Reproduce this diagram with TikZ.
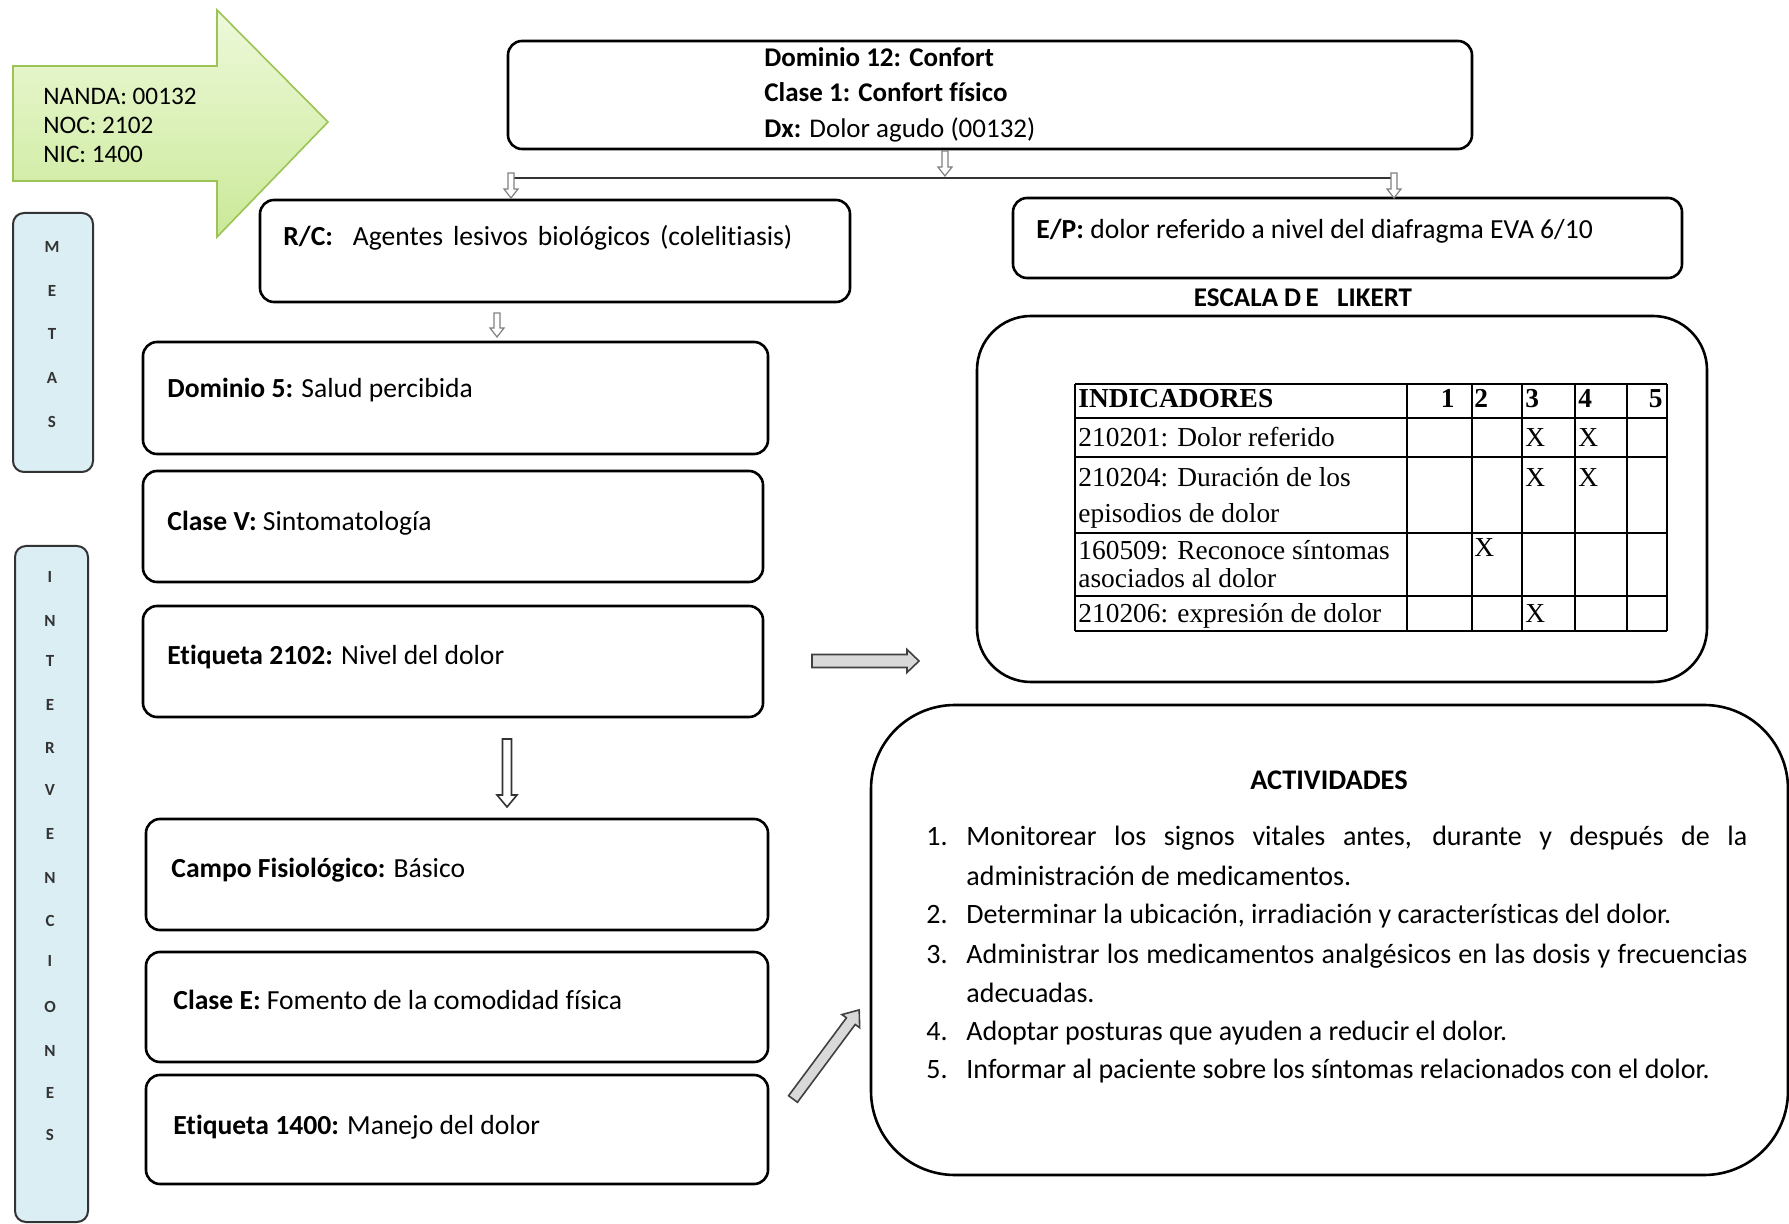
\documentclass[tikz,border=0pt]{standalone}
\usepackage{fontspec}
\setmainfont{Carlito}[Ligatures=NoCommon]
\newfontfamily\tnr{Liberation Serif}
\usetikzlibrary{fit}
\definecolor{gborder}{RGB}{155,195,85}
\definecolor{gtop}{RGB}{238,249,218}
\definecolor{gbot}{RGB}{202,233,152}
\definecolor{sideblue}{RGB}{218,238,243}
\newcommand{\blockarr}[5][]{\draw[#1] (0,-#3) -- ({#2-#5},-#3) -- ({#2-#5},-#4) -- (#2,0) -- ({#2-#5},#4) -- ({#2-#5},#3) -- (0,#3) -- cycle;}
\begin{document}
\begin{tikzpicture}[x=0.5pt,y=-0.5pt,
  box/.style={draw=black, line width=1.3pt, rounded corners=7pt, inner sep=0pt, fill=white},
  txt/.style={anchor=base west, inner sep=0pt, font=\fontsize{13.8}{16}\selectfont},
  ttxt/.style={anchor=base west, inner sep=0pt, font=\fontsize{13.5}{16}\selectfont},
  gtxt/.style={anchor=base west, inner sep=0pt, font=\fontsize{12.6}{15}\selectfont},
  atxt/.style={anchor=base west, inner sep=0pt, font=\fontsize{14}{16}\selectfont},
  side/.style={draw=black!80, line width=1pt, rounded corners=5.5pt, fill=sideblue, inner sep=0pt},
  sidel/.style={inner sep=0pt, font=\fontsize{8.5}{10}\selectfont\bfseries, text=black!80},
  tline/.style={line width=0.7pt},
  tcell/.style={anchor=base west, inner sep=0pt, font=\tnr\fontsize{13.7}{15}\selectfont},
  tcelle/.style={anchor=base east, inner sep=0pt, font=\tnr\fontsize{13.7}{15}\selectfont},
  small/.style={draw=black!50, fill=white, line width=0.6pt},
  darrow/.style={draw=black!80, fill=white, line width=0.8pt},
  grayarr/.style={draw=black!75, fill=black!15, line width=0.8pt},
]
\path[use as bounding box] (0,0) rectangle (1789,1224);
\fill[white] (0,0) rectangle (1789,1224);

% green arrow
\draw[draw=gborder, line width=0.8pt, top color=gtop, bottom color=gbot]
  (13,66) -- (217,66) -- (217,10) -- (328,122) -- (217,237) -- (217,181) -- (13,181) -- cycle;
\node[gtxt] (nanda) at (43,105) {NANDA: 00132};
\node[gtxt] (noc) at (43,134) {NOC: 2102};
\node[gtxt] (nic) at (43,163) {NIC: 1400};

% side boxes
\node[side, fit={(13,213) (93,472)}] (metas) {};
\foreach \l/\y [count=\i] in {M/247,E/291,T/334,A/378,S/422}
  \node[sidel] (m\i) at (52,\y) {\l};
\node[side, fit={(15,546) (88,1222)}] (interv) {};
\foreach \l/\y [count=\i] in {I/577,N/621,T/661,E/705,R/748,V/790,E/834,N/878,C/921,I/961,O/1007,N/1051,E/1093,S/1135}
  \node[sidel] (n\i) at (50,\y) {\l};

% top box
\node[box, fit={(508,41) (1472,149)}] (topbox) {};
\node[ttxt] (d12) at (764,67) {\textbf{Dominio 12: Confort}};
\node[ttxt] (c1) at (764,102) {\textbf{Clase 1: Confort físico}};
\node[ttxt] (dx) at (764,138) {\textbf{Dx:} Dolor agudo (00132)};

% R/C and E/P
\node[box, fit={(260,200) (850,302)}] (rc) {};
\node[txt] (rct) at (283,246) {\makebox[254.5pt][s]{\textbf{R/C:}\ \ Agentes lesivos biológicos (colelitiasis)}};
\node[box, fit={(1013,198) (1682,278)}] (ep) {};
\node[txt] (ept) at (1036,239) {\textbf{E/P:} dolor referido a nivel del diafragma EVA 6/10};

% connectors at top
\draw[line width=1.2pt, black!80] (511,178) -- (1394,178);
\begin{scope}[shift={(945,151)},rotate=-90]\blockarr[small]{25}{3}{7}{9}\end{scope}
\begin{scope}[shift={(511,173)},rotate=-90]\blockarr[small]{25}{3}{7}{9}\end{scope}
\begin{scope}[shift={(1394,173)},rotate=-90]\blockarr[small]{25}{3}{7}{9}\end{scope}
\begin{scope}[shift={(497,313)},rotate=-90]\blockarr[small]{24}{3}{7}{9}\end{scope}

% Likert
\node[font=\fontsize{13.5}{15}\selectfont\bfseries, anchor=base, inner sep=0pt] (esc) at (1303,307) {ESCALA D\,E\ \ \ LIKERT};
\node[box, rounded corners=27pt, fit={(977,316) (1707,682)}] (lik) {};
\foreach \x in {1075,1407,1472,1522,1575,1627,1667} \draw[tline] (\x,384) -- (\x,631);
\foreach \y in {384,418,457,533,596,631} \draw[tline] (1075,\y) -- (1667,\y);
\node[tcell] (th) at (1078,408) {\textbf{INDICADORES}};
\node[tcelle] (h1) at (1455,408) {\textbf{1}};
\node[tcell] (h2) at (1474,408) {\textbf{2}};
\node[tcell] (h3) at (1525,408) {\textbf{3}};
\node[tcell] (h4) at (1578,408) {\textbf{4}};
\node[tcelle] (h5) at (1663,408) {\textbf{5}};
\node[tcell] (r1) at (1078,447) {210201: Dolor referido};
\node[tcell] (r1a) at (1525,447) {X};
\node[tcell] (r1b) at (1578,447) {X};
\node[tcell] (r2) at (1078,487) {210204: Duración de los};
\node[tcell] (r2l) at (1078,523) {episodios de dolor};
\node[tcell] (r2a) at (1525,487) {X};
\node[tcell] (r2b) at (1578,487) {X};
\node[tcell] (r3) at (1078,560) {160509: Reconoce síntomas};
\node[tcell] (r3l) at (1078,588) {asociados al dolor};
\node[tcell] (r3a) at (1474,557) {X};
\node[tcell] (r4) at (1078,623) {210206: expresión de dolor};
\node[tcell] (r4a) at (1525,623) {X};

% left column
\node[box, fit={(143,342) (768,454)}] (dom5) {};
\node[txt] (dom5t) at (167,398) {\textbf{Dominio 5:} Salud percibida};
\node[box, fit={(143,471) (763,582)}] (clv) {};
\node[txt] (clvt) at (167,531) {\textbf{Clase V:} Sintomatología};
\node[box, fit={(143,606) (763,717)}] (e2102) {};
\node[txt] (e2102t) at (167,665) {\textbf{Etiqueta 2102:} Nivel del dolor};
\node[box, fit={(146,819) (768,930)}] (campo) {};
\node[txt] (campot) at (171,877) {\textbf{Campo Fisiológico:} Básico};
\node[box, fit={(146,952) (768,1062)}] (cle) {};
\node[txt] (clet) at (173,1009) {\textbf{Clase E:} Fomento de la comodidad física};
\node[box, fit={(146,1075) (768,1184)}] (e1400) {};
\node[txt] (e1400t) at (173,1134) {\textbf{Etiqueta 1400:} Manejo del dolor};

% arrows
\begin{scope}[shift={(507,739)},rotate=-90]\blockarr[darrow]{68}{4.5}{10}{12}\end{scope}
\begin{scope}[shift={(812,661)}]\blockarr[grayarr]{107}{6.5}{11.5}{12}\end{scope}
\begin{scope}[shift={(793,1099)},rotate=53.4]\blockarr[grayarr]{111}{5.5}{11}{14}\end{scope}

% activities
\node[box, rounded corners=42pt, fit={(871,705) (1788,1175)}] (act) {};
\node[font=\fontsize{14.2}{16}\selectfont\bfseries, anchor=base, inner sep=0pt] (actt) at (1329,790) {ACTIVIDADES};
\node[atxt] (n1) at (926,845) {1.};
\node[atxt] (l1) at (966,845) {\makebox[390.5pt][s]{Monitorear los signos vitales antes, durante y después de la}};
\node[atxt] (l2) at (966,885) {administración de medicamentos.};
\node[atxt] (n2) at (926,923) {2.};
\node[atxt] (l3) at (966,923) {Determinar la ubicación, irradiación y características del dolor.};
\node[atxt] (n3) at (926,963) {3.};
\node[atxt] (l4) at (966,963) {\makebox[390.5pt][s]{Administrar los medicamentos analgésicos en las dosis y frecuencias}};
\node[atxt] (l5) at (966,1002) {adecuadas.};
\node[atxt] (n4) at (926,1040) {4.};
\node[atxt] (l6) at (966,1040) {Adoptar posturas que ayuden a reducir el dolor.};
\node[atxt] (n5) at (926,1078) {5.};
\node[atxt] (l7) at (966,1078) {Informar al paciente sobre los síntomas relacionados con el dolor.};
\end{tikzpicture}
\end{document}
